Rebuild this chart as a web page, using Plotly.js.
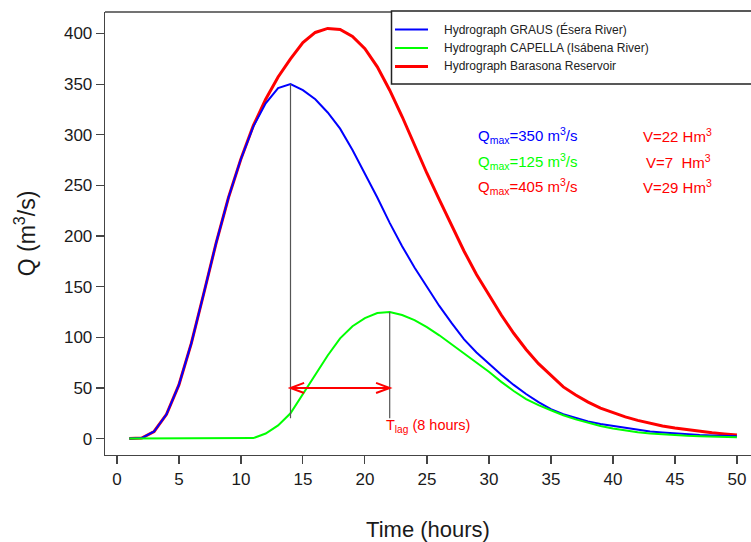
<!DOCTYPE html>
<html><head><meta charset="utf-8">
<script src="https://cdn.plot.ly/plotly-3.0.1.min.js"></script>
<style>html,body{margin:0;padding:0;background:#fff}#chart{width:751px;height:542px}</style>
</head><body><div id="chart"></div>
<script>
// ---- data ----
const hours = [1,2,3,4,5,6,7,8,9,10,11,12,13,14,15,16,17,18,19,20,21,22,23,24,25,26,27,28,29,30,31,32,33,34,35,36,37,38,39,40,41,42,43,44,45,46,47,48,49,50];
const grausQ = [0,0.5,7,24,53,94,143,193,238,276,308,331,346,350,344,335,322,306,285,262,238,213,190,169,150,131,114,98,85,74,63,53,44,36,29,24,20.5,17,14.5,12.5,10.5,8.5,7,6,5,4.2,3.5,3,2.5,2.2];
const capellaQ = [0,0,0,0,0,0,0,0,0,0,0.5,5,13,25,44,63,82,99,111,119,124,125,122,117,110,102,93,84,75,66,56,47,39,33,28,23,19,15.5,12.5,10,8,6.3,5,4,3.3,2.7,2.2,1.8,1.5,1.3];
const barasonaQ = [0,0.5,7,24,53,94,143,193,238,276,309,335,357,375,391,401,405,404,397,385,367,344,318,290,262,236,210,185,162,142,122,104,88,74,62,51,43,36,30,25.5,21.5,18,15,12.5,10.5,8.7,7.2,5.8,4.6,3.5];
const seriesNames = ["Hydrograph GRAUS (Ésera River)","Hydrograph CAPELLA (Isábena River)","Hydrograph Barasona Reservoir"];
const seriesColors = ["#0000FF","#00FF00","#FF0000"];
const seriesWidths = [2,2,3];
const xTickVals = [0,5,10,15,20,25,30,35,40,45,50];
const yTickVals = [0,50,100,150,200,250,300,350,400];
const qmaxLabels = ["Q<sub>max</sub>=350 m<sup>3</sup>/s","Q<sub>max</sub>=125 m<sup>3</sup>/s","Q<sub>max</sub>=405 m<sup>3</sup>/s"];
const volLabels = ["V=22 Hm<sup>3</sup>","V=7  Hm<sup>3</sup>","V=29 Hm<sup>3</sup>"];
const qmaxColors = ["#0000FF","#00FF00","#FF0000"];
const lagLabel = "T<sub>lag</sub> (8 hours)";
const lagLineBase = 20;   // Q where the peak marker lines end
const arrowQ = 50;        // Q level of the lag arrow

// ---- layout geometry ----
const W = 751, H = 542, ML = 105, MR = 0, MT = 12, MB = 87;
const PW = W - ML - MR, PH = H - MT - MB;
const px2x = p => (p - ML) / PW;
const px2y = p => (H - MB - p) / PH;
const FONT = "Liberation Sans, Arial, sans-serif";

const allSeries = [grausQ, capellaQ, barasonaQ];
const traces = allSeries.map((ys, i) => ({
  x: hours, y: ys, type: "scatter", mode: "lines", name: seriesNames[i],
  line: {color: seriesColors[i], width: seriesWidths[i]}, showlegend: false, hoverinfo: "x+y"
}));
const ordered = [traces[2], traces[0], traces[1]];

const peakIdxBlue = grausQ.indexOf(Math.max(...grausQ));
const peakIdxGreen = capellaQ.indexOf(Math.max(...capellaQ));
const tBlue = hours[peakIdxBlue], tGreen = hours[peakIdxGreen];

const shapes = [];
shapes.push({type:"line", xref:"paper", yref:"paper", x0:0, x1:px2x(392), y0:1, y1:1, line:{color:"#444", width:1.3}});
shapes.push({type:"line", xref:"x", yref:"y", x0:tBlue, x1:tBlue, y0:lagLineBase, y1:grausQ[peakIdxBlue], line:{color:"#555", width:1.2}});
shapes.push({type:"line", xref:"x", yref:"y", x0:tGreen, x1:tGreen, y0:lagLineBase, y1:capellaQ[peakIdxGreen], line:{color:"#555", width:1.2}});
const hx = 1.1, hy = 5;
shapes.push({type:"path", xref:"x", yref:"y",
  path:`M${tBlue},${arrowQ} L${tGreen},${arrowQ} M${tBlue+hx},${arrowQ+hy} L${tBlue},${arrowQ} L${tBlue+hx},${arrowQ-hy} M${tGreen-hx},${arrowQ+hy} L${tGreen},${arrowQ} L${tGreen-hx},${arrowQ-hy}`,
  line:{color:"#FF0000", width:2}});
shapes.push({type:"rect", xref:"paper", yref:"paper", x0:px2x(391.5), x1:px2x(760), y0:px2y(84), y1:px2y(11),
  line:{color:"#222", width:1.5}, fillcolor:"#fff", layer:"above"});
const legY = [29.5, 48, 66.5];
legY.forEach((py, i) => {
  shapes.push({type:"line", xref:"paper", yref:"paper", x0:px2x(395), x1:px2x(428), y0:px2y(py), y1:px2y(py),
    line:{color:seriesColors[i], width:seriesWidths[i]}, layer:"above"});
});

const annotations = [];
legY.forEach((py, i) => {
  annotations.push({xref:"paper", yref:"paper", x:px2x(442), y:px2y(py), xanchor:"left", yanchor:"middle",
    text:seriesNames[i], showarrow:false, font:{family:FONT, size:12, color:"#222"}});
});
const rowY = [135, 161, 186];
rowY.forEach((py, i) => {
  annotations.push({xref:"paper", yref:"paper", x:px2x(476), y:px2y(py), xanchor:"left", yanchor:"middle",
    text:qmaxLabels[i], showarrow:false, font:{family:FONT, size:15, color:qmaxColors[i]}});
  annotations.push({xref:"paper", yref:"paper", x:px2x(i===1?644:641), y:px2y(py), xanchor:"left", yanchor:"middle",
    text:volLabels[i], showarrow:false, font:{family:FONT, size:15, color:"#FF0000"}});
});
annotations.push({xref:"x", yref:"paper", x:tGreen - 0.45, y:px2y(426), xanchor:"left", yanchor:"middle",
  text:lagLabel, showarrow:false, font:{family:FONT, size:14.5, color:"#FF0000"}});

const axisCommon = {showgrid:false, zeroline:false, showline:true, linecolor:"#444", linewidth:1.3,
  ticks:"outside", ticklen:8, tickcolor:"#444", tickwidth:1.2,
  tickfont:{family:FONT, size:17, color:"#1a1a1a"}, fixedrange:true};

const layout = {
  width:W, height:H, margin:{l:ML, r:MR, t:MT, b:MB, pad:0},
  paper_bgcolor:"#fff", plot_bgcolor:"#fff", showlegend:false,
  xaxis: Object.assign({}, axisCommon, {range:[-0.96, -0.96 + PW/12.4], tickvals:xTickVals, ticktext:xTickVals.map(String),
    title:{text:"Time (hours)", font:{family:FONT, size:22, color:"#1a1a1a"}, standoff:39}}),
  yaxis: Object.assign({}, axisCommon, {range:[-16.2, 421.2], tickvals:yTickVals, ticktext:yTickVals.map(String),
    title:{text:"Q (m<sup>3</sup>/s)", font:{family:FONT, size:23, color:"#1a1a1a"}, standoff:22}}),
  shapes: shapes, annotations: annotations
};
Plotly.newPlot("chart", ordered, layout, {staticPlot:true, displayModeBar:false});
</script></body></html>
